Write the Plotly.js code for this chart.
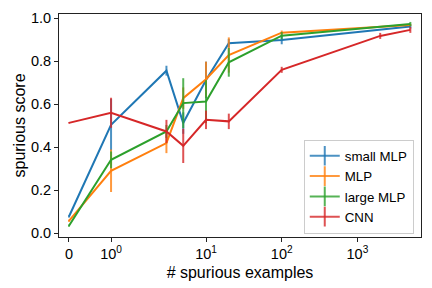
<!DOCTYPE html>
<html>
<head>
<meta charset="utf-8">
<script src="https://cdn.plot.ly/plotly-3.0.1.min.js"></script>
<style>html,body{margin:0;padding:0;background:#fff;}#chart{width:432px;height:288px;}</style>
</head>
<body>
<div id="chart"></div>
<script>
// ---- data ----
const xMLP = [0, 1, 3, 5, 10, 20, 100, 5000];
const xCNN = [0, 1, 3, 5, 10, 20, 100, 2000, 5000];

const smallMLP    = [0.077, 0.504, 0.756, 0.512, 0.713, 0.884, 0.899, 0.962];
const smallMLPErr = [0.005, 0.120, 0.023, 0.050, 0.085, 0.020, 0.020, 0.010];

const mlp    = [0.057, 0.290, 0.419, 0.628, 0.716, 0.829, 0.933, 0.969];
const mlpErr = [0.005, 0.099, 0.047, 0.050, 0.082, 0.082, 0.010, 0.005];

const largeMLP    = [0.034, 0.341, 0.473, 0.605, 0.612, 0.795, 0.919, 0.973];
const largeMLPErr = [0.005, 0.039, 0.030, 0.116, 0.100, 0.067, 0.017, 0.010];

const cnn    = [0.513, 0.560, 0.473, 0.406, 0.527, 0.520, 0.760, 0.918, 0.946];
const cnnErr = [0.003, 0.070, 0.054, 0.080, 0.043, 0.036, 0.014, 0.014, 0.014];

const seriesNames = ['small MLP', 'MLP', 'large MLP', 'CNN'];
const colors = ['#1f77b4', '#ff7f0e', '#2ca02c', '#d62728'];
const errColors = ['rgba(31,119,180,0.8)', 'rgba(255,127,14,0.8)', 'rgba(44,160,44,0.8)', 'rgba(214,39,40,0.8)'];

const xTickValues = [0, 1, 10, 100, 1000];
const xTickLabels = ['0', '10<sup>0</sup>', '10<sup>1</sup>', '10<sup>2</sup>', '10<sup>3</sup>'];

// symlog scale (matplotlib default: linthresh=2, linscale=1, base 10)
const LINTHRESH = 2, LINSCALE_ADJ = 1 / (1 - 1 / 10);
function symlog(v) {
  const a = Math.abs(v), s = Math.sign(v);
  return a <= LINTHRESH ? v * LINSCALE_ADJ : s * LINTHRESH * (LINSCALE_ADJ + Math.log10(a / LINTHRESH));
}

const FONT = 'Liberation Sans, Arial, sans-serif';

function makeTrace(i, xs, ys, errs) {
  return {
    type: 'scatter',
    mode: 'lines',
    name: seriesNames[i],
    legendgroup: seriesNames[i],
    showlegend: false,
    x: xs.map(symlog),
    y: ys,
    line: {color: colors[i], width: 2},
    error_y: {type: 'data', array: errs, visible: true, color: errColors[i], thickness: 2, width: 0},
    hoverinfo: 'skip'
  };
}

// legend-only entries (line with a vertical error-bar tick, like matplotlib's errorbar handle)
function makeLegendEntry(i) {
  return {
    type: 'scatter',
    mode: 'lines+markers',
    name: seriesNames[i],
    legendgroup: seriesNames[i],
    showlegend: true,
    x: [null], y: [null],
    line: {color: errColors[i], width: 2},
    marker: {symbol: 'line-ns', size: 14, color: errColors[i], line: {color: errColors[i], width: 2}},
    hoverinfo: 'skip'
  };
}

const traces = [
  makeTrace(0, xMLP, smallMLP, smallMLPErr),
  makeTrace(1, xMLP, mlp, mlpErr),
  makeTrace(2, xMLP, largeMLP, largeMLPErr),
  makeTrace(3, xCNN, cnn, cnnErr),
  makeLegendEntry(0), makeLegendEntry(1), makeLegendEntry(2), makeLegendEntry(3)
];

const layout = {
  width: 432, height: 288,
  margin: {l: 59, r: 11, t: 14, b: 51, pad: 0},
  paper_bgcolor: '#fff', plot_bgcolor: '#fff',
  font: {family: FONT, size: 14, color: '#000'},
  showlegend: true,
  legend: {
    x: 0.98, xanchor: 'right', y: 0.015, yanchor: 'bottom',
    bgcolor: 'rgba(255,255,255,0.8)', bordercolor: '#cccccc', borderwidth: 1,
    font: {family: FONT, size: 13.3, color: '#000'},
    tracegroupgap: 0
  },
  xaxis: {
    range: [-0.264, 9.30],
    tickmode: 'array',
    tickvals: xTickValues.map(symlog),
    ticktext: xTickLabels,
    showgrid: false, zeroline: false,
    showline: true, mirror: true, linecolor: '#222', linewidth: 1,
    ticks: 'outside', ticklen: 4, tickwidth: 1, tickcolor: '#222',
    tickfont: {family: FONT, size: 14.5, color: '#000'},
    title: {text: '# spurious examples', font: {family: FONT, size: 16, color: '#000'}, standoff: 5}
  },
  yaxis: {
    range: [-0.0186, 1.02],
    tickmode: 'linear', tick0: 0, dtick: 0.2, tickformat: '.1f',
    showgrid: false, zeroline: false,
    showline: true, mirror: true, linecolor: '#222', linewidth: 1,
    ticks: 'outside', ticklen: 4, tickwidth: 1, tickcolor: '#222',
    tickfont: {family: FONT, size: 14.5, color: '#000'},
    title: {text: 'spurious score', font: {family: FONT, size: 16, color: '#000'}, standoff: 1}
  }
};

Plotly.newPlot('chart', traces, layout, {staticPlot: true, displayModeBar: false});
</script>
</body>
</html>
